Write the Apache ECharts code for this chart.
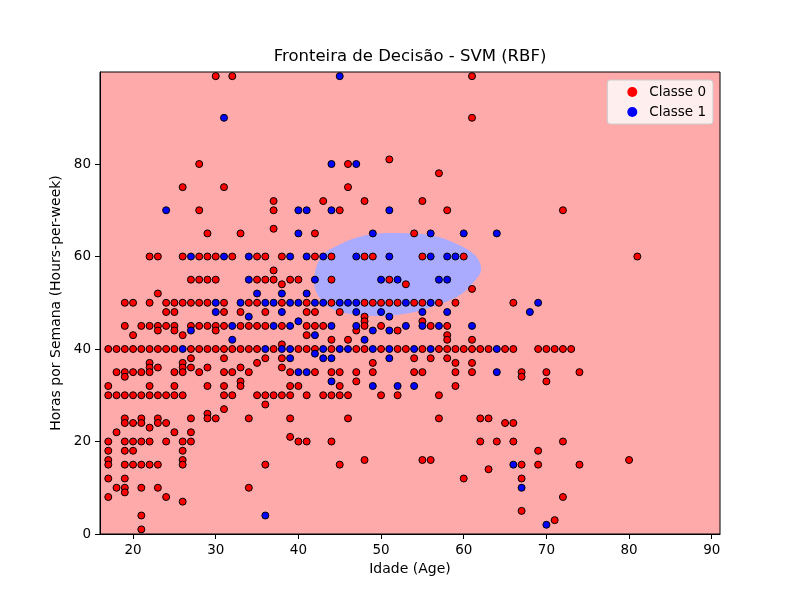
<!DOCTYPE html>
<html>
<head>
<meta charset="utf-8">
<title>Fronteira de Decisão - SVM (RBF)</title>
<script src="https://cdn.jsdelivr.net/npm/echarts@6/dist/echarts.min.js"></script>
<style>
	*{
		margin:0px;
		padding:0px;
	}
	body{
		background: white;
	}
</style>
</head>
<body>
<div id="main" style="width: 800px;height:600px;"></div>
<script type="text/javascript">
// pontos: [horas, [idades...]]
var class0Rows = [
    [99, [30, 32, 61]],
    [90, [61]],
    [81, [51]],
    [80, [28, 46]],
    [78, [57]],
    [75, [26, 31, 46]],
    [72, [37, 43, 48, 55]],
    [70, [28, 37, 45, 58, 72]],
    [66, [37]],
    [65, [29, 33, 42, 54]],
    [60, [22, 23, 26, 28, 29, 30, 32, 35, 36, 38, 42, 44, 48, 49, 55, 60, 81]],
    [57, [37]],
    [55, [27, 28, 29, 30, 35, 36, 37, 39, 40, 44, 51]],
    [54, [38, 53]],
    [53, [61]],
    [52, [23]],
    [50, [19, 20, 22, 24, 25, 26, 27, 28, 29, 31, 34, 35, 38, 41, 44, 48, 49, 50, 51, 52, 54, 55, 57, 59, 66]],
    [48, [24, 25, 31, 33, 36, 41, 42, 45]],
    [47, [48]],
    [46, [48, 55]],
    [45, [19, 21, 22, 23, 24, 25, 27, 28, 29, 30, 31, 33, 34, 35, 36, 38, 41, 42, 43, 48, 50, 56, 58]],
    [44, [23, 25, 30, 47, 52]],
    [43, [20, 26, 41, 58]],
    [42, [44, 46, 58, 61]],
    [41, [38]],
    [40, [17, 18, 19, 20, 21, 22, 23, 24, 25, 27, 28, 29, 30, 31, 32, 33, 34, 35, 37, 40, 41, 42, 44, 47, 48, 50, 52, 53, 55, 57, 58, 59, 60, 61, 62, 63, 65, 66, 69, 70, 71, 72, 73]],
    [38, [27, 31, 36, 38, 54, 56, 58]],
    [37, [22, 26, 35, 49, 59, 61]],
    [36, [22, 23, 26, 27, 29, 33, 38]],
    [35, [18, 19, 20, 21, 22, 25, 26, 28, 31, 32, 34, 39, 42, 44, 45, 47, 49, 54, 55, 59, 61, 67, 70, 74]],
    [34, [19, 67]],
    [33, [33, 47, 70]],
    [32, [17, 22, 25, 29, 31, 33, 39, 40, 45, 59]],
    [30, [17, 18, 19, 20, 21, 22, 23, 24, 25, 26, 31, 32, 35, 36, 37, 38, 39, 41, 43, 44, 45, 46, 50, 52, 57]],
    [28, [36]],
    [27, [31]],
    [26, [29]],
    [25, [19, 21, 23, 27, 29, 30, 34, 39, 46, 57, 62, 63]],
    [24, [19, 20, 21, 23, 24, 65, 66]],
    [23, [22]],
    [22, [18, 25, 27]],
    [21, [39]],
    [20, [17, 19, 20, 21, 22, 24, 26, 27, 40, 41, 44, 62, 64, 66, 72]],
    [18, [17, 19, 20, 26, 69]],
    [16, [17, 26, 48, 55, 56, 80]],
    [15, [17, 19, 20, 21, 22, 23, 26, 36, 45, 67, 69, 74]],
    [14, [63]],
    [12, [17, 19, 60, 67]],
    [10, [18, 19, 21, 23, 34]],
    [9, [19]],
    [8, [17, 24, 72]],
    [7, [26]],
    [5, [67]],
    [4, [21]],
    [3, [71]],
    [1, [21]]
];

var class1Rows = [
    [99, [45]],
    [90, [31]],
    [80, [44, 47]],
    [70, [24, 40, 41, 44, 51]],
    [65, [40, 49, 56, 60, 64]],
    [60, [27, 31, 34, 39, 41, 43, 47, 51, 56, 58, 59]],
    [55, [34, 42, 50, 52, 57, 58]],
    [52, [35, 38, 41]],
    [50, [30, 33, 36, 37, 39, 40, 42, 43, 45, 46, 47, 53, 56, 69]],
    [48, [30, 38, 47, 50, 55, 58, 68]],
    [47, [34, 51]],
    [46, [40]],
    [45, [32, 37, 39, 44, 47, 53, 55, 57, 61]],
    [44, [27, 49, 51]],
    [43, [42]],
    [42, [32, 48]],
    [40, [26, 36, 38, 39, 43, 45, 46, 49, 51, 54, 56, 64]],
    [39, [42]],
    [38, [39, 43, 44, 51]],
    [35, [40, 41, 64]],
    [33, [44]],
    [32, [49, 52, 54]],
    [15, [66]],
    [10, [67]],
    [4, [36]],
    [2, [70]]
];

// contorno da regiao da classe 1 (idade, horas)
var class1Region = [
    [51.9, 65.1], [56.3, 64.5], [59.3, 62.6], [61.4, 60.2], [62.1, 57.1],
    [61.1, 54.3], [59.2, 51.3], [55.1, 48.5], [51.1, 47.2], [47.5, 47.4],
    [44.4, 48.4], [42.5, 51.2], [41.9, 55.0], [42.8, 60.0], [45.0, 62.6],
    [48.1, 64.6]
];

var xTicks = [20, 30, 40, 50, 60, 70, 80, 90];
var yTicks = [0, 20, 40, 60, 80];

function toPoints(rows) {
    var pts = [];
    rows.forEach(function (r) {
        r[1].forEach(function (age) {
            pts.push([age, r[0]]);
        });
    });
    return pts;
}

var font = 'DejaVu Sans';
var myChart = echarts.init(document.getElementById('main'));

myChart.setOption({
    animation: false,
    backgroundColor: '#ffffff',
    textStyle: { fontFamily: font },
    title: {
        text: 'Fronteira de Decisão - SVM (RBF)',
        left: 410,
        top: 48,
        padding: 0,
        textAlign: 'center',
        textStyle: { fontFamily: font, fontSize: 16.5, fontWeight: 'normal', color: '#000' }
    },
    legend: {
        data: ['Classe 0', 'Classe 1'],
        orient: 'vertical',
        right: 87,
        top: 80,
        icon: 'circle',
        itemWidth: 10,
        itemHeight: 10,
        itemGap: 6,
        padding: [5, 7, 5, 20],
        backgroundColor: 'rgba(255,255,255,0.8)',
        borderColor: '#cccccc',
        borderWidth: 1,
        borderRadius: 3,
        itemStyle: { borderWidth: 0 },
        textStyle: { fontFamily: font, fontSize: 13.5, color: '#000', padding: [0, 0, 0, 7] },
        selectedMode: false
    },
    grid: {
        left: 100,
        right: 80,
        top: 72,
        bottom: 66,
        show: true,
        backgroundColor: '#FFAAAA',
        borderColor: '#000',
        borderWidth: 1
    },
    xAxis: {
        type: 'value',
        min: 16,
        max: 91,
        name: 'Idade (Age)',
        nameLocation: 'middle',
        nameGap: 28,
        nameTextStyle: { fontFamily: font, fontSize: 14, color: '#000' },
        axisLine: { show: true, onZero: false, lineStyle: { color: '#000', width: 1 } },
        axisTick: { show: true, length: 5, customValues: xTicks, lineStyle: { color: '#000' } },
        axisLabel: { customValues: xTicks, margin: 9, fontFamily: font, fontSize: 13.5, color: '#000' },
        splitLine: { show: false }
    },
    yAxis: {
        type: 'value',
        min: 0,
        max: 99.9,
        name: 'Horas por Semana (Hours-per-week)',
        nameLocation: 'middle',
        nameGap: 31,
        nameTextStyle: { fontFamily: font, fontSize: 14, color: '#000' },
        axisLine: { show: true, onZero: false, lineStyle: { color: '#000', width: 1 } },
        axisTick: { show: true, length: 5, customValues: yTicks, lineStyle: { color: '#000' } },
        axisLabel: { customValues: yTicks, margin: 9, fontFamily: font, fontSize: 13.5, color: '#000' },
        splitLine: { show: false }
    },
    series: [
        {
            type: 'custom',
            name: 'regiao',
            silent: true,
            clip: true,
            z: 1,
            data: [[52, 56]],
            renderItem: function (params, api) {
                return {
                    type: 'polygon',
                    shape: {
                        points: class1Region.map(function (p) { return api.coord(p); }),
                        smooth: 0.35
                    },
                    style: { fill: '#AAAAFF' }
                };
            }
        },
        {
            type: 'scatter',
            name: 'Classe 0',
            z: 3,
            symbol: 'circle',
            symbolSize: 7,
            data: toPoints(class0Rows),
            itemStyle: { color: '#FF0000', borderColor: '#000', borderWidth: 1, opacity: 1 },
            emphasis: { disabled: true }
        },
        {
            type: 'scatter',
            name: 'Classe 1',
            z: 4,
            symbol: 'circle',
            symbolSize: 7,
            data: toPoints(class1Rows),
            itemStyle: { color: '#0000FF', borderColor: '#000', borderWidth: 1, opacity: 1 },
            emphasis: { disabled: true }
        }
    ]
});
</script>
</body>
</html>
